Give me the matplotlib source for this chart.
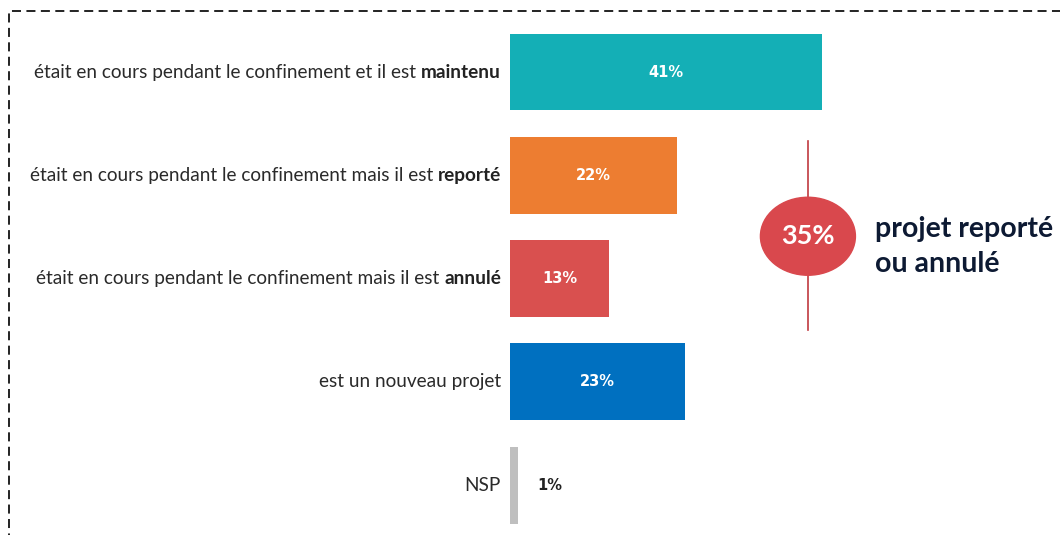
import matplotlib.pyplot as plt
from matplotlib.patches import Ellipse, Rectangle

# donnees
labels_normal = [
    "était en cours pendant le confinement et il est ",
    "était en cours pendant le confinement mais il est ",
    "était en cours pendant le confinement mais il est ",
    "est un nouveau projet",
    "NSP",
]
labels_bold = ["maintenu", "reporté", "annulé", "", ""]
values = [41, 22, 13, 23, 1]
colors = ["#14afb6", "#ed7d31", "#d9504f", "#0070c0", "#bfbfbf"]
total_label = "35%"
total_text = "projet reporté\nou annulé"

plt.rcParams['font.family'] = ['Lato', 'DejaVu Sans']

fig = plt.figure(figsize=(10.6, 5.35), dpi=100)
W, H = 1060, 535

# axes: x=0 a 510 px, 7.6 px par %
ax = fig.add_axes([510 / W, 0, (W - 510) / W, 1])
px_per = 7.6
ax.set_xlim(0, (W - 510) / px_per)
step = 103.3
ax.set_ylim((H - 72) / step, -72 / step)
ax.axis('off')

ypos = list(range(len(values)))
ax.barh(ypos, values, height=0.745, color=colors)

fig.canvas.draw()
r = fig.canvas.get_renderer()
inv = ax.transData.inverted()

for i, v in enumerate(values):
    if v > 5:
        ax.text(v / 2, i, f"{v}%", color="white", fontweight="bold",
                ha="center", va="center", fontsize=10.5, family="DejaVu Sans")
    else:
        ax.text(v + 2.6, i, f"{v}%", color="#222222", fontweight="bold",
                ha="left", va="center", fontsize=10.5, family="DejaVu Sans")

    # libelle avec partie en gras
    x_end = -1.2
    if labels_bold[i]:
        tb = ax.text(x_end, i, labels_bold[i], fontweight="bold", ha="right",
                     va="center", fontsize=13.7, color="#222222")
        bb = tb.get_window_extent(renderer=r)
        x_end = inv.transform((bb.x0, 0))[0]
    ax.text(x_end, i, labels_normal[i], ha="right", va="center",
            fontsize=13.7, color="#2a2a2a")

# bloc 35%
ax.plot([39.2, 39.2], [0.67, 2.5], color="#c0393f", lw=1.2)
ax.add_patch(Ellipse((39.2, 1.59), 95 / px_per, 78 / step, angle=0,
                     color="#d9484d", zorder=3))
ax.text(39.2, 1.59, total_label, color="white", fontweight="bold",
        ha="center", va="center", fontsize=19.5, zorder=4)
ax.text(48.0, 1.69, total_text, color="#0d1a33", fontweight="bold",
        ha="left", va="center", fontsize=20.5, linespacing=1.4)

# cadre pointille
fig.patches.append(Rectangle((9 / W, -0.1), 1.2, (H - 11) / H + 0.1,
                             transform=fig.transFigure, fill=False,
                             ls=(0, (5, 3)), lw=1.3, ec="#111111"))

fig.savefig("out.png", dpi=100)
